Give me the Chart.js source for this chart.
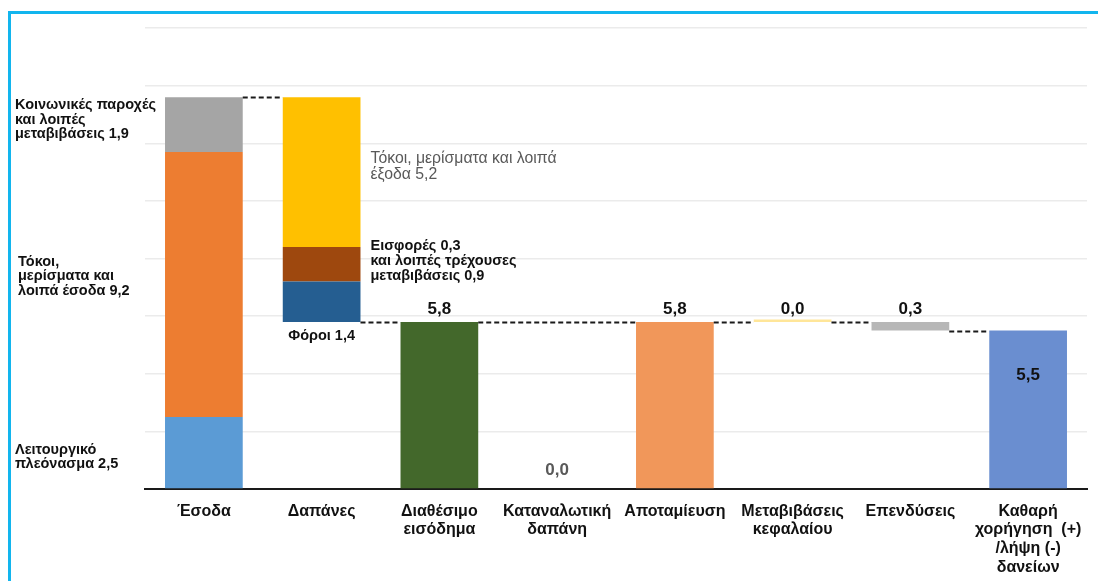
<!DOCTYPE html>
<html>
<head>
<meta charset="utf-8">
<title>Waterfall</title>
<script src="https://cdn.jsdelivr.net/npm/chart.js@4.4.1/dist/chart.umd.min.js"></script>
<style>
  html, body { margin: 0; padding: 0; background: #fff; }
  #wrap { position: relative; width: 1098px; height: 581px; overflow: hidden; }
  #frame { position: absolute; left: 8px; top: 11px; width: 1200px; height: 700px;
           border-top: 3px solid #12B5EE; border-left: 3px solid #12B5EE; pointer-events: none; }
</style>
</head>
<body>
<div id="wrap">
  <canvas id="chart" width="1098" height="581"></canvas>
  <div id="frame"></div>
</div>
<script>
// categories (x axis)
const categories = [
  ['Έσοδα'],
  ['Δαπάνες'],
  ['Διαθέσιμο', 'εισόδημα'],
  ['Καταναλωτική', 'δαπάνη'],
  ['Αποταμίευση'],
  ['Μεταβιβάσεις', 'κεφαλαίου'],
  ['Επενδύσεις'],
  ['Καθαρή', 'χορήγηση  (+)', '/λήψη (-)', 'δανείων']
];

// Έσοδα: λειτουργικό πλεόνασμα, τόκοι/μερίσματα, κοινωνικές παροχές
const incomeParts = [2.5, 9.2, 1.9];
// Δαπάνες: φόροι, εισφορές + λοιπές τρέχουσες μεταβιβάσεις (0,3 + 0,9), τόκοι/μερίσματα
const expenseParts = [1.4, 1.2, 5.2];
// Διαθέσιμο, Καταναλωτική, Αποταμίευση, Μεταβιβάσεις κεφαλαίου, Επενδύσεις, Καθαρή χορήγηση
const flowValues = [5.8, 0.0, 5.8, 0.0, 0.3, 5.5];
// y axis gridlines
const yTicks = [0, 2, 4, 6, 8, 10, 12, 14, 16];

const incomeColors = ['#5B9BD5', '#ED7D31', '#A5A5A5'];
const expenseColors = ['#255E91', '#9E480E', '#FFC000'];

const N = categories.length;
const incomeTotal = incomeParts.reduce((a, b) => a + b, 0);
const expenseTotal = expenseParts.reduce((a, b) => a + b, 0);
const expenseBase = incomeTotal - expenseTotal;

function onlyAt(idx, range) {
  const arr = new Array(N).fill(null);
  arr[idx] = range;
  return arr;
}

const datasets = [];
let run = 0;
incomeParts.forEach((v, i) => {
  datasets.push({ data: onlyAt(0, [run, run + v]), backgroundColor: incomeColors[i] });
  run += v;
});
run = expenseBase;
expenseParts.forEach((v, i) => {
  datasets.push({ data: onlyAt(1, [run, run + v]), backgroundColor: expenseColors[i] });
  run += v;
});

const disposable = flowValues[0];
const saving = disposable - flowValues[1];
const afterTransfers = saving + flowValues[3];
const afterInvest = afterTransfers - flowValues[4];

datasets.push({ data: onlyAt(2, [0, disposable]), backgroundColor: '#43682B' });
datasets.push({ data: onlyAt(3, [0, flowValues[1]]), backgroundColor: '#F1975A' });
datasets.push({ data: onlyAt(4, [0, saving]), backgroundColor: '#F1975A' });
datasets.push({ data: onlyAt(5, [saving, afterTransfers]), backgroundColor: '#FFE699', minBarLength: 2.5 });
datasets.push({ data: onlyAt(6, [afterInvest, afterTransfers]), backgroundColor: '#B7B7B7' });
datasets.push({ data: onlyAt(7, [0, flowValues[5]]), backgroundColor: '#6A8ED0' });

datasets.forEach(d => {
  d.grouped = false;
  d.barPercentage = 0.66;
  d.categoryPercentage = 1.0;
  d.borderWidth = 0;
});

const fmt = v => v.toFixed(1).replace('.', ',');

function barOf(chart, idx) {
  for (let d = 0; d < chart.data.datasets.length; d++) {
    if (chart.data.datasets[d].data[idx] !== null) {
      return chart.getDatasetMeta(d).data[idx];
    }
  }
}

// dashed connectors between bars: [from, to, level]
const connectors = [
  [0, 1, incomeTotal],
  [1, 2, expenseBase],
  [2, 4, disposable],
  [4, 5, saving],
  [5, 6, afterTransfers],
  [6, 7, afterInvest]
];

const connectorPlugin = {
  id: 'connectors',
  afterDatasetsDraw(chart) {
    const ctx = chart.ctx;
    const y = chart.scales.y;
    ctx.save();
    ctx.strokeStyle = '#1a1a1a';
    ctx.lineWidth = 2;
    ctx.setLineDash([5, 3]);
    connectors.forEach(([a, b, lvl]) => {
      const ba = barOf(chart, a), bb = barOf(chart, b);
      const py = Math.round(y.getPixelForValue(lvl)) + 0.5;
      ctx.beginPath();
      ctx.moveTo(ba.x + ba.width / 2, py);
      ctx.lineTo(bb.x - bb.width / 2, py);
      ctx.stroke();
    });
    ctx.restore();
  }
};

function drawLines(ctx, lines, x, yCenter, lh) {
  const start = yCenter - (lines.length - 1) * lh / 2;
  lines.forEach((t, i) => ctx.fillText(t, x, start + i * lh));
}

const labelPlugin = {
  id: 'labels',
  afterDatasetsDraw(chart) {
    const ctx = chart.ctx;
    const y = chart.scales.y;
    const area = chart.chartArea;
    ctx.save();
    ctx.textBaseline = 'middle';

    // left of Έσοδα
    ctx.textAlign = 'left';
    ctx.fillStyle = '#111';
    ctx.font = 'bold 14.5px "Liberation Sans", Arial, sans-serif';
    const lx = area.left - 130;
    const i0 = incomeParts[0], i1 = incomeParts[1], i2 = incomeParts[2];
    drawLines(ctx, ['Κοινωνικές παροχές', 'και λοιπές', 'μεταβιβάσεις ' + fmt(i2)],
      lx, y.getPixelForValue(i0 + i1 + i2 / 2) - 5, 14.3);
    drawLines(ctx, ['Τόκοι,', 'μερίσματα και', 'λοιπά έσοδα ' + fmt(i1)],
      lx + 3, y.getPixelForValue(i0 + i1 / 2) - 8, 14.3);
    drawLines(ctx, ['Λειτουργικό', 'πλεόνασμα ' + fmt(i0)],
      lx, y.getPixelForValue(i0 / 2) + 4, 14.3);

    // right of Δαπάνες
    const b1 = barOf(chart, 1);
    const rx = b1.x + b1.width / 2 + 10;
    const e0 = expenseParts[0], e1 = expenseParts[1], e2 = expenseParts[2];
    ctx.fillStyle = '#595959';
    ctx.font = '15.8px "Liberation Sans", Arial, sans-serif';
    drawLines(ctx, ['Τόκοι, μερίσματα και λοιπά', 'έξοδα ' + fmt(e2)],
      rx, y.getPixelForValue(expenseBase + e0 + e1 + e2 / 2) - 5, 16);
    ctx.fillStyle = '#111';
    ctx.font = 'bold 14.5px "Liberation Sans", Arial, sans-serif';
    drawLines(ctx, ['Εισφορές 0,3', 'και λοιπές τρέχουσες', 'μεταβιβάσεις 0,9'],
      rx, y.getPixelForValue(expenseBase + e0 + e1 / 2) - 3, 15);
    ctx.textAlign = 'center';
    ctx.fillText('Φόροι ' + fmt(e0), b1.x, y.getPixelForValue(expenseBase) + 14);

    // value labels of the flow bars
    ctx.font = 'bold 17px "Liberation Sans", Arial, sans-serif';
    const tops = [disposable, flowValues[1], saving, afterTransfers, afterTransfers];
    for (let k = 0; k < 5; k++) {
      const b = barOf(chart, k + 2);
      ctx.fillStyle = k === 1 ? '#595959' : '#111';
      ctx.fillText(fmt(flowValues[k]), b.x, y.getPixelForValue(tops[k]) - (k === 1 ? 19 : 13));
    }
    const b7 = barOf(chart, 7);
    ctx.fillStyle = '#111';
    ctx.fillText(fmt(flowValues[5]), b7.x, y.getPixelForValue(flowValues[5]) + 45);
    ctx.restore();
  }
};

new Chart(document.getElementById('chart'), {
  type: 'bar',
  data: { labels: categories, datasets: datasets },
  options: {
    responsive: false,
    animation: false,
    layout: { padding: { left: 145, right: 11, top: 28, bottom: 0 } },
    plugins: {
      legend: { display: false },
      tooltip: { enabled: false }
    },
    scales: {
      x: {
        grid: { display: false },
        border: { display: true, color: '#1a1a1a', width: 2 },
        ticks: {
          color: '#111',
          font: { family: '"Liberation Sans", Arial, sans-serif', size: 16, weight: 'bold', lineHeight: 1.17 },
          padding: 5,
          maxRotation: 0,
          autoSkip: false
        },
        afterFit(scale) { scale.height = 92; }
      },
      y: {
        min: yTicks[0],
        max: yTicks[yTicks.length - 1],
        afterBuildTicks(scale) { scale.ticks = yTicks.map(v => ({ value: v })); },
        ticks: { display: false },
        border: { display: false },
        grid: { color: '#EBEBEB', lineWidth: 1.5, drawTicks: false },
        afterFit(scale) { scale.width = 0; }
      }
    }
  },
  plugins: [connectorPlugin, labelPlugin]
});
</script>
</body>
</html>
